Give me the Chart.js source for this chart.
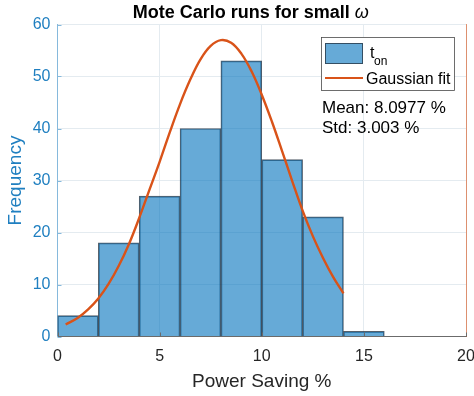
<!DOCTYPE html>
<html>
<head>
<meta charset="utf-8">
<script src="https://cdn.jsdelivr.net/npm/chart.js@4/dist/chart.umd.min.js"></script>
<style>
  html, body { margin: 0; padding: 0; background: #fff; }
  #wrap { width: 474px; height: 396px; overflow: hidden; position: relative; }
  canvas { display: block; }
</style>
</head>
<body>
<div id="wrap"><canvas id="c" width="500" height="396" style="width:500px;height:396px"></canvas></div>
<script>
// Histogram of Monte Carlo power-saving results (bin width 2 %)
const binCenters = [1, 3, 5, 7, 9, 11, 13, 15];
const binCounts  = [4, 18, 27, 40, 53, 34, 23, 1];

// Gaussian fit curve sampled along the x range
const fitX = [0.4, 1, 1.5, 2, 2.5, 3, 3.5, 4, 4.5, 5, 5.5, 6, 6.5, 7, 7.5, 8, 8.5, 9, 9.5, 10, 10.5, 11, 11.5, 12, 12.5, 13, 13.5, 14];
const fitY = [2.3, 3.6, 5.2, 7.3, 10.1, 13.6, 17.8, 22.8, 28.2, 33.6, 39.3, 44.7, 49.4, 53.3, 55.9, 57.0, 56.5, 54.4, 51.0, 46.5, 41.3, 35.6, 29.8, 24.2, 19.3, 15.1, 11.4, 8.3];

const xTicks = [0, 5, 10, 15, 20];
const yTicks = [0, 10, 20, 30, 40, 50, 60];

const meanText = 'Mean: 8.0977 %';
const stdText  = 'Std: 3.003 %';

const ORANGE = 'rgb(217,83,25)';
const FONT = '"Liberation Sans", Arial, Helvetica, sans-serif';

// small inward tick marks along the left and bottom axes
const innerTicks = {
  id: 'innerTicks',
  afterDatasetsDraw(chart) {
    const ctx = chart.ctx;
    const a = chart.chartArea;
    const xs = chart.scales.x, ys = chart.scales.y;
    ctx.save();
    ctx.lineWidth = 1;
    ctx.strokeStyle = '#86b9dc';
    yTicks.forEach(v => {
      const py = Math.round(ys.getPixelForValue(v)) + 0.5;
      ctx.beginPath(); ctx.moveTo(a.left, py); ctx.lineTo(a.left + 4, py); ctx.stroke();
    });
    ctx.strokeStyle = '#6b6b6b';
    xTicks.forEach(v => {
      const px = Math.round(xs.getPixelForValue(v)) + 0.5;
      ctx.beginPath(); ctx.moveTo(px, a.bottom); ctx.lineTo(px, a.bottom - 4); ctx.stroke();
    });
    ctx.restore();
  }
};

const overlay = {
  id: 'overlay',
  afterDraw(chart) {
    const ctx = chart.ctx;
    const a = chart.chartArea;
    ctx.save();
    // title with italic omega
    const t1 = 'Mote Carlo runs for small ';
    const t2 = '\u03c9';
    ctx.fillStyle = '#000';
    ctx.textBaseline = 'alphabetic';
    ctx.font = 'bold 18px ' + FONT;
    const w1 = ctx.measureText(t1).width;
    ctx.font = 'italic 18px ' + FONT;
    const w2 = ctx.measureText(t2).width;
    let tx = (a.left + a.right) / 2 - (w1 + w2) / 2 - 11;
    ctx.textAlign = 'left';
    ctx.font = 'bold 18px ' + FONT;
    ctx.fillText(t1, tx, 18);
    ctx.font = 'italic 18px ' + FONT;
    ctx.fillText(t2, tx + w1, 18);

    // legend box
    const lx = 321, ly = 37, lw = 133, lh = 53;
    ctx.fillStyle = '#fff';
    ctx.fillRect(lx, ly, lw, lh);
    ctx.strokeStyle = '#4a4a4a';
    ctx.lineWidth = 0.8;
    ctx.strokeRect(lx + 0.5, ly + 0.5, lw, lh);
    // histogram swatch
    ctx.fillStyle = 'rgba(0,114,189,0.6)';
    ctx.fillRect(325, 43, 38, 21);
    ctx.strokeStyle = 'rgba(40,55,70,0.8)';
    ctx.lineWidth = 1;
    ctx.strokeRect(325.5, 43.5, 37, 20);
    // line swatch
    ctx.strokeStyle = ORANGE;
    ctx.lineWidth = 2;
    ctx.beginPath();
    ctx.moveTo(325, 78);
    ctx.lineTo(363, 78);
    ctx.stroke();
    // legend labels
    ctx.fillStyle = '#000';
    ctx.font = '16px ' + FONT;
    ctx.fillText('t', 370, 58);
    ctx.font = '12px ' + FONT;
    ctx.fillText('on', 374, 65);
    ctx.font = '16px ' + FONT;
    ctx.fillText('Gaussian fit', 366, 84);

    // statistics
    ctx.font = '17px ' + FONT;
    ctx.fillText(meanText, 322, 113);
    ctx.fillText(stdText, 322, 133);
    ctx.restore();
  }
};

new Chart(document.getElementById('c'), {
  data: {
    datasets: [
      {
        type: 'line',
        label: 'Gaussian fit',
        data: fitX.map((x, i) => ({ x: x, y: fitY[i] })),
        borderColor: ORANGE,
        borderWidth: 2.4,
        pointRadius: 0,
        tension: 0.4,
        fill: false,
        order: 0,
        yAxisID: 'y'
      },
      {
        type: 'bar',
        label: 't_on',
        data: binCenters.map((x, i) => ({ x: x, y: binCounts[i] })),
        backgroundColor: 'rgba(0,114,189,0.6)',
        borderColor: 'rgba(40,55,70,0.8)',
        borderWidth: 1,
        borderSkipped: 'start',
        barPercentage: 1,
        categoryPercentage: 1,
        grouped: false,
        order: 1,
        yAxisID: 'y'
      }
    ]
  },
  options: {
    responsive: false,
    animation: false,
    events: [],
    layout: { padding: { top: 24.5, left: 0, right: 0, bottom: 0 } },
    plugins: { legend: { display: false }, tooltip: { enabled: false }, title: { display: false } },
    scales: {
      x: {
        type: 'linear',
        offset: false,
        min: 0, max: 20,
        afterBuildTicks: s => { s.ticks = xTicks.map(v => ({ value: v })); },
        afterFit: s => { s.height = 59.5; },
        ticks: { color: '#262626', font: { family: FONT, size: 16 }, padding: 10, maxRotation: 0 },
        grid: { color: '#e4ebf0', drawTicks: false, lineWidth: 1, offset: false },
        border: { color: '#6b6b6b', width: 1 },
        title: { display: true, text: 'Power Saving %', color: '#262626', font: { family: FONT, size: 19 }, padding: { top: 2, bottom: 3 } }
      },
      y: {
        type: 'linear',
        position: 'left',
        min: 0, max: 60,
        afterBuildTicks: s => { s.ticks = yTicks.map(v => ({ value: v })); },
        afterFit: s => { s.width = 57.5; },
        ticks: { color: '#1f7fc0', font: { family: FONT, size: 16 }, padding: 7 },
        grid: { color: '#e4ebf0', drawTicks: false, lineWidth: 1 },
        border: { color: '#86b9dc', width: 1 },
        title: { display: true, text: 'Frequency', color: '#1f7fc0', font: { family: FONT, size: 19 }, padding: { top: 4, bottom: 0 } }
      },
      y2: {
        type: 'linear',
        position: 'right',
        min: 0, max: 1,
        afterFit: s => { s.width = 34; },
        ticks: { display: false },
        grid: { drawOnChartArea: false, drawTicks: false },
        border: { color: 'rgba(217,83,25,0.6)', width: 1 }
      }
    }
  },
  plugins: [innerTicks, overlay]
});
</script>
</body>
</html>
